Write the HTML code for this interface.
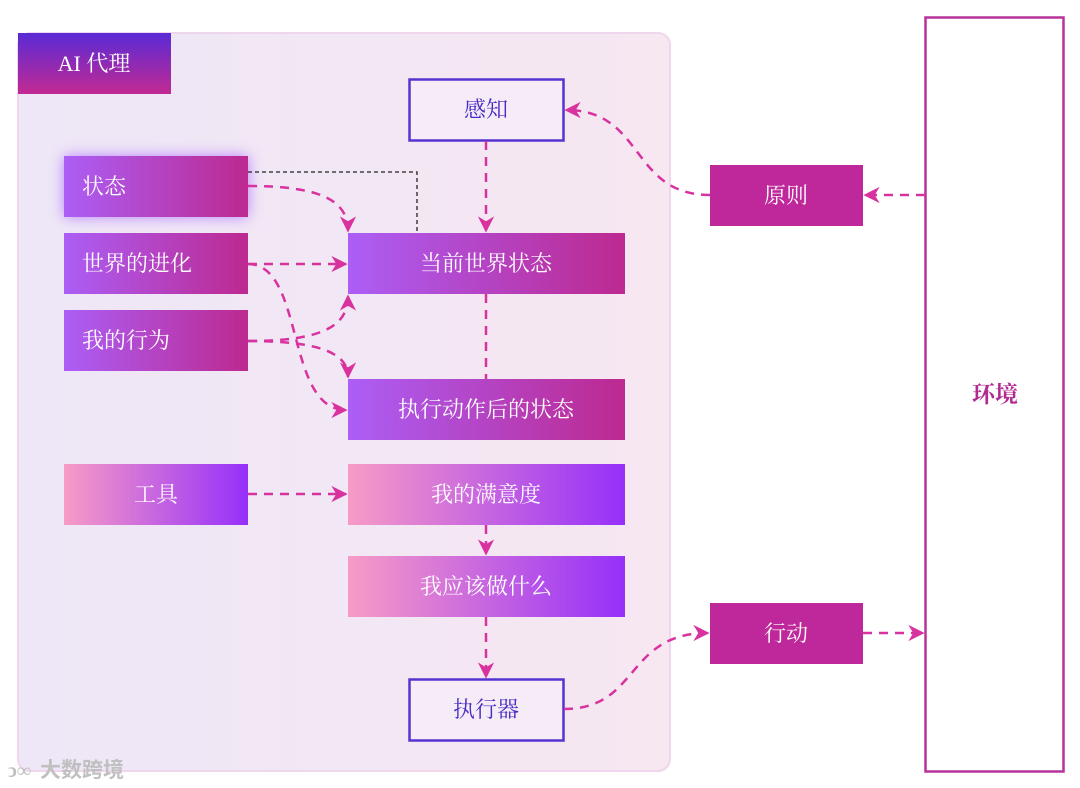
<!DOCTYPE html>
<html><head><meta charset="utf-8"><style>
html,body{margin:0;padding:0;background:#fff;width:1080px;height:788px;overflow:hidden}
text{font-family:"Liberation Serif","Noto Serif CJK SC",serif}
</style></head><body>
<svg width="1080" height="788" viewBox="0 0 1080 788" xmlns="http://www.w3.org/2000/svg">
<defs>
<linearGradient id="bg" x1="0" x2="1" y1="0" y2="0"><stop offset="0" stop-color="#eee7f7"/><stop offset="1" stop-color="#f6e7f1"/></linearGradient>
<linearGradient id="tt" x1="0" x2="0" y1="0" y2="1"><stop offset="0" stop-color="#5a2ad6"/><stop offset="1" stop-color="#c22a92"/></linearGradient>
<linearGradient id="pm" x1="0" x2="1" y1="0" y2="0"><stop offset="0" stop-color="#ac5ef6"/><stop offset="1" stop-color="#bd2990"/></linearGradient>
<linearGradient id="pp" x1="0" x2="1" y1="0" y2="0"><stop offset="0" stop-color="#f79bc6"/><stop offset="1" stop-color="#9630fa"/></linearGradient>
<filter id="glow" x="-30%" y="-50%" width="160%" height="200%"><feGaussianBlur stdDeviation="7"/></filter>
<marker id="ah" viewBox="0 0 10 10" refX="9" refY="5" markerWidth="6.5" markerHeight="6.5" orient="auto-start-reverse"><path d="M0,0 L10,5 L0,10 L3,5 z" fill="#d8329f"/></marker>
</defs>
<rect x="18" y="33" width="652" height="738" rx="12" fill="url(#bg)" stroke="#f0d6ec" stroke-width="2"/>
<rect x="18" y="33" width="153" height="61" fill="url(#tt)"/>
<text x="94" y="71" font-size="22" fill="#fff" text-anchor="middle">AI 代理</text>

<rect x="64" y="156" width="184" height="61" fill="#a055ff" filter="url(#glow)" opacity="0.7"/>
<g font-size="22" fill="#fff">
<rect x="64" y="156" width="184" height="61" fill="url(#pm)"/><text x="82" y="194">状态</text>
<rect x="64" y="233" width="184" height="61" fill="url(#pm)"/><text x="82" y="271">世界的进化</text>
<rect x="64" y="310" width="184" height="61" fill="url(#pm)"/><text x="82" y="348">我的行为</text>
<rect x="348" y="233" width="277" height="61" fill="url(#pm)"/><text x="486" y="271" text-anchor="middle">当前世界状态</text>
<rect x="348" y="379" width="277" height="61" fill="url(#pm)"/><text x="486" y="417" text-anchor="middle">执行动作后的状态</text>
<rect x="64" y="464" width="184" height="61" fill="url(#pp)"/><text x="156" y="502" text-anchor="middle">工具</text>
<rect x="348" y="464" width="277" height="61" fill="url(#pp)"/><text x="486" y="502" text-anchor="middle">我的满意度</text>
<rect x="348" y="556" width="277" height="61" fill="url(#pp)"/><text x="486" y="594" text-anchor="middle">我应该做什么</text>
<rect x="710" y="165" width="153" height="61" fill="#bf289a"/><text x="786" y="203" text-anchor="middle">原则</text>
<rect x="710" y="603" width="153" height="61" fill="#bf289a"/><text x="786" y="641" text-anchor="middle">行动</text>
</g>
<rect x="409.5" y="79.5" width="154" height="61" fill="#f5ecf8" stroke="#5433d0" stroke-width="2.5"/>
<text x="486" y="117" font-size="22" fill="#4a2ac0" text-anchor="middle">感知</text>
<rect x="409.5" y="679.5" width="154" height="61" fill="#f5ecf8" stroke="#5433d0" stroke-width="2.5"/>
<text x="486" y="717" font-size="22" fill="#4a2ac0" text-anchor="middle">执行器</text>
<rect x="925.5" y="17.5" width="138" height="754" fill="#fff" stroke="#b8329a" stroke-width="2.5"/>
<text x="995" y="402" font-size="23" font-weight="bold" fill="#b02a90" text-anchor="middle">环境</text>

<path d="M248,172 H417 V233" fill="none" stroke="#222" stroke-width="1.3" stroke-dasharray="4,3"/>
<g fill="none" stroke="#d8329f" stroke-width="2.5" stroke-dasharray="9,7">
<path d="M486,141 V231" marker-end="url(#ah)"/>
<path d="M486,294 V379"/>
<path d="M486,525 V554" marker-end="url(#ah)"/>
<path d="M486,617 V677" marker-end="url(#ah)"/>
<path d="M248,494 H346" marker-end="url(#ah)"/>
<path d="M248,264 H346" marker-end="url(#ah)"/>
<path d="M248,186 C320,186 348,200 348,231" marker-end="url(#ah)"/>
<path d="M248,264 C305,264 285,410 346,410" marker-end="url(#ah)"/>
<path d="M248,341 C325,341 348,325 348,296" marker-end="url(#ah)"/>
<path d="M248,341 C325,341 348,355 348,377" marker-end="url(#ah)"/>
<path d="M925,195 H865" marker-end="url(#ah)"/>
<path d="M710,195 C630,195 645,110 566,110" marker-end="url(#ah)"/>
<path d="M564,709 C640,709 625,633 708,633" marker-end="url(#ah)"/>
<path d="M863,633 H923" marker-end="url(#ah)"/>
</g>
<text x="40" y="777" font-size="21" font-weight="bold" fill="#c0c0c0" style="font-family:'Liberation Sans','Noto Sans CJK SC',sans-serif">大数跨境</text>
<text x="8" y="777" font-size="20" font-weight="bold" fill="#c0c0c0">ↄ∞</text>
</svg>
</body></html>
